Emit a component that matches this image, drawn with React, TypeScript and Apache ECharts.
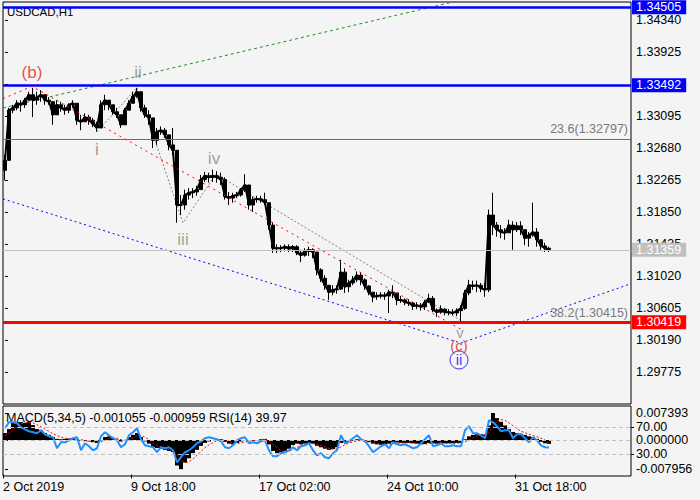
import React, { useEffect, useRef } from 'react';
import * as echarts from 'echarts';

const FONT = '"Liberation Sans", Arial, sans-serif';
const SYMBOL_TITLE = 'USDCAD,H1';
const INDICATOR_TITLE = 'MACD(5,34,5) -0.001055 -0.000959 RSI(14) 39.97';

// number of 4-hour slots on the time axis (data fills the first 137)
const SLOT_COUNT = 157;

// 4-hour bars (open = previous close)
const firstOpen = 1.3239;
const closes = [
  1.3252, 1.3317, 1.3320, 1.3326, 1.3324, 1.3330, 1.3337, 1.3330, 1.3334, 1.3337,
  1.3330, 1.3328, 1.3311, 1.3324, 1.3320, 1.3317, 1.3324, 1.3326, 1.3304, 1.3302,
  1.3308, 1.3304, 1.3299, 1.3294, 1.3324, 1.3330, 1.3324, 1.3315, 1.3311, 1.3298,
  1.3317, 1.3326, 1.3335, 1.3341, 1.3320, 1.3311, 1.3307, 1.3278, 1.3289, 1.3291,
  1.3285, 1.3272, 1.3265, 1.3194, 1.3194, 1.3207, 1.3210, 1.3211, 1.3214, 1.3227,
  1.3232, 1.3230, 1.3232, 1.3230, 1.3227, 1.3205, 1.3203, 1.3206, 1.3207, 1.3214,
  1.3220, 1.3194, 1.3201, 1.3202, 1.3201, 1.3197, 1.3168, 1.3138, 1.3138, 1.3138,
  1.3140, 1.3137, 1.3140, 1.3132, 1.3129, 1.3134, 1.3136, 1.3133, 1.3110, 1.3099,
  1.3090, 1.3081, 1.3084, 1.3085, 1.3107, 1.3088, 1.3093, 1.3097, 1.3103, 1.3097,
  1.3089, 1.3081, 1.3075, 1.3076, 1.3077, 1.3076, 1.3081, 1.3080, 1.3071, 1.3071,
  1.3068, 1.3067, 1.3063, 1.3064, 1.3062, 1.3068, 1.3073, 1.3058, 1.3055, 1.3059,
  1.3055, 1.3055, 1.3054, 1.3057, 1.3060, 1.3080, 1.3090, 1.3089, 1.3090, 1.3086,
  1.3084, 1.3181, 1.3168, 1.3162, 1.3159, 1.3158, 1.3168, 1.3162, 1.3167, 1.3162,
  1.3151, 1.3155, 1.3159, 1.3149, 1.3141, 1.3138, 1.31359,
];
const highs = [
  1.3259, 1.3320, 1.3324, 1.3330, 1.3330, 1.3333, 1.3341, 1.3346, 1.3341, 1.3343,
  1.3337, 1.3334, 1.3326, 1.3330, 1.3328, 1.3324, 1.3326, 1.3330, 1.3326, 1.3311,
  1.3313, 1.3311, 1.3307, 1.3302, 1.3330, 1.3337, 1.3330, 1.3324, 1.3320, 1.3311,
  1.3320, 1.3330, 1.3341, 1.3346, 1.3337, 1.3324, 1.3317, 1.3298, 1.3294, 1.3296,
  1.3294, 1.3281, 1.3294, 1.3265, 1.3207, 1.3214, 1.3216, 1.3216, 1.3219, 1.3233,
  1.3237, 1.3236, 1.3240, 1.3238, 1.3236, 1.3230, 1.3211, 1.3210, 1.3211, 1.3216,
  1.3234, 1.3220, 1.3205, 1.3206, 1.3206, 1.3210, 1.3197, 1.3172, 1.3143, 1.3142,
  1.3143, 1.3143, 1.3142, 1.3142, 1.3136, 1.3138, 1.3140, 1.3138, 1.3129, 1.3112,
  1.3103, 1.3090, 1.3090, 1.3090, 1.3123, 1.3112, 1.3097, 1.3102, 1.3108, 1.3107,
  1.3099, 1.3090, 1.3081, 1.3081, 1.3081, 1.3081, 1.3084, 1.3090, 1.3076, 1.3076,
  1.3073, 1.3072, 1.3068, 1.3068, 1.3067, 1.3071, 1.3079, 1.3076, 1.3060, 1.3064,
  1.3060, 1.3059, 1.3059, 1.3060, 1.3064, 1.3084, 1.3097, 1.3096, 1.3096, 1.3093,
  1.3093, 1.3188, 1.3210, 1.3172, 1.3168, 1.3164, 1.3175, 1.3173, 1.3172, 1.3173,
  1.3162, 1.3159, 1.3197, 1.3164, 1.3149, 1.3145, 1.3140,
];
const lows = [
  1.3226, 1.3252, 1.3313, 1.3317, 1.3315, 1.3320, 1.3330, 1.3308, 1.3324, 1.3328,
  1.3324, 1.3324, 1.3298, 1.3311, 1.3315, 1.3311, 1.3313, 1.3320, 1.3298, 1.3291,
  1.3302, 1.3298, 1.3295, 1.3289, 1.3294, 1.3317, 1.3317, 1.3311, 1.3307, 1.3294,
  1.3298, 1.3320, 1.3328, 1.3333, 1.3315, 1.3307, 1.3298, 1.3268, 1.3272, 1.3285,
  1.3281, 1.3265, 1.3259, 1.3171, 1.3181, 1.3188, 1.3201, 1.3203, 1.3206, 1.3214,
  1.3224, 1.3223, 1.3224, 1.3223, 1.3220, 1.3201, 1.3194, 1.3197, 1.3203, 1.3205,
  1.3211, 1.3188, 1.3185, 1.3197, 1.3197, 1.3194, 1.3162, 1.3132, 1.3132, 1.3133,
  1.3134, 1.3133, 1.3133, 1.3129, 1.3120, 1.3127, 1.3128, 1.3125, 1.3103, 1.3094,
  1.3084, 1.3071, 1.3077, 1.3079, 1.3084, 1.3080, 1.3081, 1.3090, 1.3094, 1.3090,
  1.3084, 1.3077, 1.3068, 1.3071, 1.3073, 1.3071, 1.3054, 1.3073, 1.3064, 1.3067,
  1.3064, 1.3063, 1.3058, 1.3059, 1.3057, 1.3058, 1.3067, 1.3055, 1.3049, 1.3053,
  1.3051, 1.3051, 1.3051, 1.3050, 1.3042, 1.3058, 1.3077, 1.3084, 1.3081, 1.3081,
  1.3075, 1.3081, 1.3155, 1.3153, 1.3151, 1.3149, 1.3159, 1.3136, 1.3159, 1.3155,
  1.3142, 1.3140, 1.3153, 1.3140, 1.3136, 1.3133, 1.3133,
];

// MACD histogram, signal line and RSI per slot
const macdHist = [
  0.0019, 0.0030, 0.0047, 0.0049, 0.0049, 0.0047, 0.0049, 0.0041, 0.0030, 0.0027,
  0.0019, 0.0014, 0.0008, 0.0003, 0.0002, 0.0003, 0.0004, 0.0003, 0.0001, -0.0002,
  -0.0003, -0.0004, -0.0006, -0.0008, -0.0002, 0.0008, 0.0010, 0.0005, 0.0001, -0.0004,
  -0.0001, 0.0008, 0.0014, 0.0019, 0.0008, -0.0004, -0.0010, -0.0019, -0.0022, -0.0024,
  -0.0027, -0.0030, -0.0033, -0.0070, -0.0080, -0.0062, -0.0050, -0.0036, -0.0027, -0.0016,
  -0.0008, -0.0004, 0.0000, 0.0002, 0.0002, -0.0005, -0.0010, -0.0012, -0.0008, -0.0004,
  0.0000, -0.0003, -0.0002, 0.0000, 0.0002, 0.0003, -0.0012, -0.0030, -0.0036, -0.0034,
  -0.0030, -0.0024, -0.0014, -0.0010, -0.0012, -0.0010, -0.0008, -0.0010, -0.0016, -0.0020,
  -0.0024, -0.0027, -0.0025, -0.0020, -0.0008, -0.0006, -0.0004, -0.0002, 0.0002, 0.0001,
  -0.0002, -0.0006, -0.0010, -0.0012, -0.0013, -0.0012, -0.0010, -0.0006, -0.0007, -0.0008,
  -0.0008, -0.0008, -0.0009, -0.0010, -0.0012, -0.0011, -0.0008, -0.0008, -0.0010, -0.0009,
  -0.0009, -0.0009, -0.0009, -0.0008, -0.0008, 0.0002, 0.0010, 0.0014, 0.0016, 0.0016,
  0.0014, 0.0040, 0.0074, 0.0060, 0.0050, 0.0040, 0.0030, 0.0022, 0.0019, 0.0017,
  0.0014, 0.0010, 0.0008, 0.0003, -0.0005, -0.0009, -0.001055,
];
const macdSignal = [
  0.0012, 0.0018, 0.0028, 0.0038, 0.0044, 0.0047, 0.0048, 0.0047, 0.0042, 0.0036,
  0.0030, 0.0024, 0.0017, 0.0012, 0.0008, 0.0005, 0.0004, 0.0003, 0.0003, 0.0001,
  -0.0001, -0.0002, -0.0004, -0.0005, -0.0005, -0.0001, 0.0004, 0.0006, 0.0005, 0.0001,
  -0.0001, 0.0001, 0.0006, 0.0012, 0.0013, 0.0008, 0.0001, -0.0008, -0.0015, -0.0020,
  -0.0023, -0.0026, -0.0029, -0.0040, -0.0055, -0.0062, -0.0060, -0.0052, -0.0042, -0.0031,
  -0.0021, -0.0013, -0.0007, -0.0002, 0.0000, -0.0001, -0.0004, -0.0008, -0.0009, -0.0008,
  -0.0005, -0.0003, -0.0002, -0.0002, -0.0001, 0.0000, -0.0003, -0.0012, -0.0022, -0.0029,
  -0.0032, -0.0031, -0.0026, -0.0020, -0.0015, -0.0012, -0.0010, -0.0010, -0.0012, -0.0015,
  -0.0019, -0.0023, -0.0025, -0.0024, -0.0019, -0.0013, -0.0008, -0.0005, -0.0002, -0.0001,
  -0.0001, -0.0003, -0.0006, -0.0009, -0.0011, -0.0012, -0.0012, -0.0010, -0.0009, -0.0008,
  -0.0008, -0.0008, -0.0008, -0.0009, -0.0010, -0.0011, -0.0010, -0.0009, -0.0009, -0.0009,
  -0.0009, -0.0009, -0.0009, -0.0009, -0.0008, -0.0005, 0.0000, 0.0006, 0.0011, 0.0014,
  0.0015, 0.0022, 0.0038, 0.0052, 0.0056, 0.0054, 0.0047, 0.0039, 0.0031, 0.0024,
  0.0020, 0.0016, 0.0012, 0.0009, 0.0005, 0.0000, -0.000959,
];
const rsiValues = [
  68.5, 77.4, 77.4, 75.9, 70.0, 67.0, 64.1, 62.6, 61.1, 65.6,
  59.6, 56.7, 55.2, 38.9, 47.8, 47.8, 50.7, 53.7, 55.2, 35.9,
  46.3, 41.9, 35.9, 38.9, 56.7, 62.6, 58.1, 53.7, 50.7, 40.4,
  44.8, 58.1, 62.6, 68.5, 52.2, 43.3, 41.9, 40.4, 33.0, 40.4,
  38.9, 40.4, 35.9, 18.1, 25.6, 33.0, 35.9, 40.4, 46.3, 49.3,
  53.7, 55.2, 53.7, 52.2, 49.3, 40.4, 38.9, 43.3, 50.7, 53.7,
  55.2, 46.3, 47.8, 46.3, 49.3, 50.7, 35.9, 27.1, 27.1, 31.5,
  33.0, 35.9, 40.4, 35.9, 41.9, 43.3, 46.3, 35.9, 28.5, 31.5,
  25.6, 24.1, 31.5, 35.9, 58.1, 46.3, 49.3, 53.7, 58.1, 52.2,
  49.3, 41.9, 33.0, 37.4, 41.9, 44.8, 38.9, 47.8, 44.8, 43.3,
  44.8, 41.9, 38.9, 40.4, 46.3, 52.2, 58.1, 41.9, 43.3, 46.3,
  41.9, 41.9, 43.3, 41.9, 41.9, 65.6, 71.5, 61.1, 61.1, 58.1,
  53.7, 80.4, 77.4, 71.5, 64.1, 65.6, 65.6, 53.7, 59.6, 59.6,
  53.7, 47.8, 55.2, 50.7, 43.3, 40.4, 39.97,
];

// axis ticks and labels
const priceTicks = [1.3434, 1.33925, 1.3351, 1.33095, 1.3268, 1.32265, 1.3185, 1.31435, 1.3102, 1.30605, 1.3019, 1.29775];
const macdTicks = [0.007393, 0, -0.007956];
const rsiTicks = [70, 30];
const rsiLevels = [70, 30];
const timeLabels = ['2 Oct 2019', '9 Oct 18:00', '17 Oct 02:00', '24 Oct 10:00', '31 Oct 18:00'];
const timeLabelSlots = [-0.5, 31.5, 63.5, 95.5, 127.5];

// horizontal levels
const blueLevels = [1.34505, 1.33492];
const supportLevel = 1.30419;
const lastPrice = 1.31359;
const fibNames = ['23.6', '38.2'];
const fibPrices = [1.32797, 1.30415];

// trend lines [slot, price]
const greenTrend = [[-0.5, 1.3320], [124, 1.3472]];
const redWave = [[-0.5, 1.3332], [6.75, 1.3348], [114.25, 1.3032]];
const grayWave = [[23, 1.3289], [33, 1.3346], [44.5, 1.3171], [52.75, 1.3234], [113.75, 1.3045]];
const blueChannel = [[-0.5, 1.3202], [114, 1.3015], [156.5, 1.3092]];

// wave labels
const waveTexts = ['(b)', 'ii', 'i', 'iii', 'iv', 'v', '(c)'];
const waveSlots = [6.75, 33.25, 23, 44.5, 52.25, 113.75, 113.5];
const wavePrices = [1.33665, 1.33665, 1.32654, 1.31487, 1.3255, 1.30281, 1.30125];
const waveColors = ['#e5231a', '#7f9088', '#9c7a7a', '#7f9088', '#7f8a98', '#7f8a98', '#e5231a'];
const waveSizes = [17, 17, 17, 17, 17, 15, 15];
const circledText = 'ii';
const circledSlot = 113.5;
const circledPrice = 1.29931;

const PRICE_MIN = 1.2936;
const PRICE_MAX = 1.34573;
const MACD_MIN = -0.009868;
const MACD_MAX = 0.00932;
const RSI_MIN = -2.2;
const RSI_MAX = 101.5;

export default function App() {
  const ref = useRef<HTMLDivElement>(null);

  useEffect(() => {
    if (!ref.current) return;
    const chart = echarts.init(ref.current, undefined, { renderer: 'svg' });

    const slots = Array.from({ length: SLOT_COUNT }, (_, i) => String(i));
    const candles = closes.map((c, i) => {
      const o = i === 0 ? firstOpen : closes[i - 1];
      return [o, c, Math.min(lows[i], o, c), Math.max(highs[i], o, c)];
    });

    const boxLabel = (bg: string, v: number) => ({
      show: true,
      position: 'end',
      formatter: v.toFixed(5),
      color: '#ffffff',
      backgroundColor: bg,
      padding: [1, 5, 0, 4],
      fontSize: 12.5,
      fontFamily: FONT,
      lineHeight: 13,
      distance: 1,
    });
    const fibLabel = (txt: string) => ({
      show: true,
      position: 'insideEndTop',
      formatter: txt,
      color: '#7a7a7a',
      fontSize: 12.5,
      fontFamily: FONT,
      distance: 3,
    });

    const dashLine = (data: number[][], color: string, dash: number[], z = 3) => ({
      type: 'line',
      xAxisIndex: 1,
      yAxisIndex: 0,
      data,
      symbol: 'none',
      silent: true,
      clip: true,
      z,
      lineStyle: { color, width: 1, type: dash },
    });

    const labelStyle = { fontFamily: FONT, fontSize: 12.5, color: '#000' };

    const option: any = {
      animation: false,
      backgroundColor: '#f4f4f4',
      textStyle: { fontFamily: FONT },
      grid: [
        { left: 3, right: 69, top: 2, height: 402, show: true, borderColor: '#000', borderWidth: 1, backgroundColor: '#f4f4f4' },
        { left: 3, right: 69, top: 406, height: 70, show: true, borderColor: '#000', borderWidth: 1, backgroundColor: '#f4f4f4' },
      ],
      xAxis: [
        { type: 'category', gridIndex: 0, data: slots, boundaryGap: true, show: false },
        { type: 'value', gridIndex: 0, min: -0.5, max: SLOT_COUNT - 0.5, show: false },
        { type: 'category', gridIndex: 1, data: slots, boundaryGap: true, show: false },
        {
          type: 'value', gridIndex: 1, min: -0.5, max: SLOT_COUNT - 0.5, position: 'bottom',
          axisLine: { show: false },
          splitLine: { show: false },
          axisTick: { show: true, customValues: timeLabelSlots, length: 4, lineStyle: { color: '#000' } },
          axisLabel: {
            show: true, customValues: timeLabelSlots, align: 'left', margin: 4,
            showMinLabel: true, showMaxLabel: true,
            formatter: (v: number) => {
              const k = timeLabelSlots.findIndex((s) => Math.abs(s - v) < 0.01);
              return k >= 0 ? timeLabels[k] : '';
            },
            ...labelStyle,
          },
        },
      ],
      yAxis: [
        {
          type: 'value', gridIndex: 0, min: PRICE_MIN, max: PRICE_MAX, position: 'right',
          axisLine: { show: false }, splitLine: { show: false },
          axisTick: { show: true, customValues: priceTicks, length: 3, lineStyle: { color: '#000' } },
          axisLabel: { show: true, customValues: priceTicks, margin: 5, formatter: (v: number) => v.toFixed(5), ...labelStyle },
        },
        {
          type: 'value', gridIndex: 1, min: MACD_MIN, max: MACD_MAX, position: 'right',
          axisLine: { show: false }, splitLine: { show: false },
          axisTick: { show: true, customValues: macdTicks, length: 3, lineStyle: { color: '#000' } },
          axisLabel: { show: true, customValues: macdTicks, margin: 5, formatter: (v: number) => v.toFixed(6), ...labelStyle },
        },
        {
          type: 'value', gridIndex: 1, min: RSI_MIN, max: RSI_MAX, position: 'right', offset: 0,
          axisLine: { show: false }, splitLine: { show: false },
          axisTick: { show: true, customValues: rsiTicks, length: 3, lineStyle: { color: '#000' } },
          axisLabel: { show: true, customValues: rsiTicks, margin: 5, formatter: (v: number) => v.toFixed(2), ...labelStyle },
        },
      ],
      graphic: [
        { type: 'text', left: 7, top: 6, silent: true, style: { text: SYMBOL_TITLE, fill: '#000', font: `11.5px ${FONT}` } },
        { type: 'text', left: 6, top: 411, silent: true, style: { text: INDICATOR_TITLE, fill: '#000', font: `12.5px ${FONT}` } },
      ],
      series: [
        dashLine(greenTrend, '#1f8f1f', [3, 3]),
        dashLine(blueChannel, '#0000ff', [2, 3]),
        dashLine(grayWave, '#808080', [2, 2]),
        {
          // carrier of the horizontal price levels
          type: 'line',
          xAxisIndex: 1,
          yAxisIndex: 0,
          data: [[-0.5, lastPrice]],
          symbol: 'none',
          silent: true,
          z: 3,
          lineStyle: { width: 0 },
          markLine: {
            symbol: ['none', 'none'],
            silent: true,
            animation: false,
            precision: 5,
            data: [
              { yAxis: fibPrices[0], lineStyle: { color: '#6e6e6e', width: 1, type: 'solid' }, label: fibLabel(`${fibNames[0]}(${fibPrices[0].toFixed(5)})`) },
              { yAxis: lastPrice, lineStyle: { color: '#c0c0c0', width: 1, type: 'solid' }, label: boxLabel('#c0c0c0', lastPrice) },
              { yAxis: fibPrices[1], lineStyle: { color: '#6e6e6e', width: 1, type: 'solid' }, label: fibLabel(`${fibNames[1]}(${fibPrices[1].toFixed(5)})`) },
              { yAxis: supportLevel, lineStyle: { color: '#ff0000', width: 3, type: 'solid' }, label: boxLabel('#ff0000', supportLevel) },
              ...blueLevels.map((v) => ({ yAxis: v, lineStyle: { color: '#0000ff', width: 2.5, type: 'solid' }, label: boxLabel('#0000ff', v) })),
            ],
          },
        },
        {
          // close-to-close path that joins the bars into one continuous trace
          type: 'line',
          xAxisIndex: 0,
          yAxisIndex: 0,
          data: closes,
          symbol: 'none',
          silent: true,
          z: 4,
          lineStyle: { color: '#000', width: 2 },
        },
        {
          type: 'candlestick',
          xAxisIndex: 0,
          yAxisIndex: 0,
          data: candles,
          barWidth: 3,
          z: 4,
          silent: true,
          itemStyle: { color: '#000', color0: '#000', borderColor: '#000', borderColor0: '#000', borderWidth: 1 },
        },
        dashLine(redWave, '#ff0000', [2, 4], 5),
        {
          type: 'scatter',
          xAxisIndex: 1,
          yAxisIndex: 0,
          silent: true,
          z: 6,
          symbolSize: 1,
          itemStyle: { color: 'rgba(0,0,0,0)' },
          data: waveTexts.map((t, i) => ({
            value: [waveSlots[i], wavePrices[i]],
            label: { show: true, position: 'inside', formatter: t, color: waveColors[i], fontSize: waveSizes[i], lineHeight: waveSizes[i] - 3, fontFamily: FONT },
          })),
        },
        {
          type: 'scatter',
          xAxisIndex: 1,
          yAxisIndex: 0,
          silent: true,
          z: 6,
          symbol: 'circle',
          symbolSize: 18,
          itemStyle: { color: 'rgba(0,0,0,0)', borderColor: '#0000ff', borderWidth: 1 },
          data: [{
            value: [circledSlot, circledPrice],
            label: { show: true, position: 'inside', formatter: circledText, color: '#1010e0', fontSize: 15, lineHeight: 12, fontFamily: FONT },
          }],
        },
        {
          type: 'bar',
          xAxisIndex: 2,
          yAxisIndex: 1,
          data: macdHist,
          barWidth: 4,
          silent: true,
          itemStyle: { color: '#000' },
          markLine: {
            symbol: ['none', 'none'], silent: true, label: { show: false },
            lineStyle: { color: '#c0c0c0', width: 1, type: [4, 3] },
            data: [{ yAxis: 0 }],
          },
        },
        {
          type: 'line',
          xAxisIndex: 2,
          yAxisIndex: 1,
          data: macdSignal,
          symbol: 'none',
          silent: true,
          lineStyle: { color: '#ff0000', width: 1, type: [2, 2] },
        },
        {
          type: 'line',
          xAxisIndex: 2,
          yAxisIndex: 2,
          data: rsiValues,
          symbol: 'none',
          silent: true,
          z: 4,
          lineStyle: { color: '#1e90ff', width: 2 },
          markLine: {
            symbol: ['none', 'none'], silent: true, label: { show: false },
            lineStyle: { color: '#c0c0c0', width: 1, type: [4, 3] },
            data: rsiLevels.map((v) => ({ yAxis: v })),
          },
        },
      ],
    };

    chart.setOption(option);
    return () => chart.dispose();
  }, []);

  return (
    <div
      ref={ref}
      style={{ position: 'fixed', left: 0, top: 0, width: 700, height: 500, background: '#f4f4f4' }}
    />
  );
}
